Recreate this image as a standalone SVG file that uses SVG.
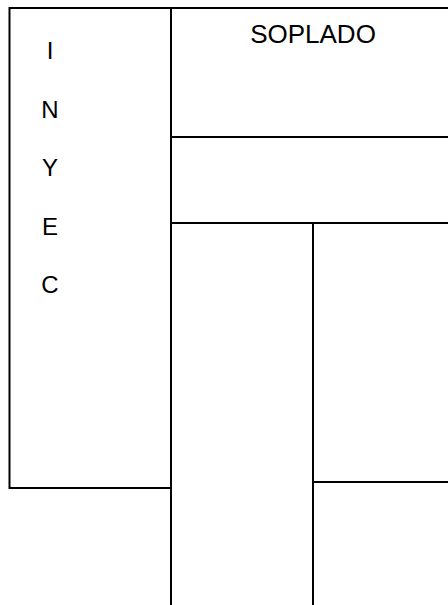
<svg xmlns="http://www.w3.org/2000/svg" width="448" height="605" viewBox="0 0 448 605">
<style>
.ln{stroke:#000;stroke-width:2;fill:none}
.t{font-family:"Liberation Sans",Arial,sans-serif;font-size:24px;fill:#000;text-anchor:middle}
</style>
<rect width="448" height="605" fill="#fff"/>
<g id="inyec">
<rect class="ln" x="9.5" y="8" width="161.5" height="480"/>
<text class="t" x="50" y="59">I</text>
<text class="t" x="50" y="117.5">N</text>
<text class="t" x="50" y="176">Y</text>
<text class="t" x="50" y="234.5">E</text>
<text class="t" x="50" y="293">C</text>
</g>
<g id="soplado">
<path class="ln" d="M9.5 8H448M171 8V605M171 137H448"/>
<text class="t" x="313" y="43" style="font-size:26px">SOPLADO</text>
</g>
<g id="lower">
<path class="ln" d="M171 223H448M313 223V605M313 482H448"/>
</g>
</svg>
